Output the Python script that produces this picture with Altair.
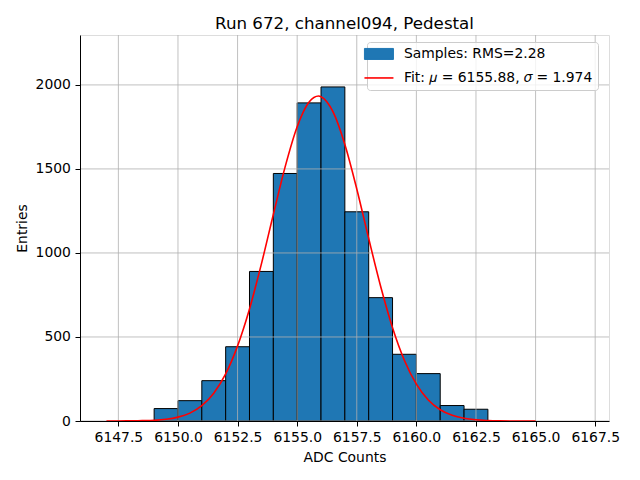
import altair as alt
import pandas as pd

# ---- data ----
bin_left = [6149, 6150, 6151, 6152, 6153, 6154, 6155, 6156, 6157, 6158, 6159, 6160, 6161, 6162]
bin_right = [6150, 6151, 6152, 6153, 6154, 6155, 6156, 6157, 6158, 6159, 6160, 6161, 6162, 6163]
counts = [74, 121, 240, 442, 890, 1473, 1893, 1988, 1245, 734, 397, 282, 92, 70]

fit_x = [6147.0, 6147.5, 6148.0, 6148.5, 6149.0, 6149.5, 6150.0, 6150.5, 6151.0, 6151.5,
         6152.0, 6152.5, 6153.0, 6153.5, 6154.0, 6154.5, 6155.0, 6155.5, 6155.9, 6156.0,
         6156.5, 6157.0, 6157.5, 6158.0, 6158.5, 6159.0, 6159.5, 6160.0, 6160.5, 6161.0,
         6161.5, 6162.0, 6162.5, 6163.0, 6163.5, 6164.0, 6164.5, 6165.0]
fit_y = [0, 0, 1, 2, 4, 10, 23, 47, 91, 165,
         280, 447, 667, 935, 1229, 1515, 1751, 1898, 1934, 1930,
         1841, 1646, 1381, 1086, 802, 555, 360, 219, 125, 67,
         34, 16, 7, 3, 1, 0, 0, 0]

x_ticks = [6147.5, 6150.0, 6152.5, 6155.0, 6157.5, 6160.0, 6162.5, 6165.0, 6167.5]
y_ticks = [0, 500, 1000, 1500, 2000]
x_domain = [6146.1, 6167.87]
y_domain = [0, 2297]

title_text = "Run 672, channel094, Pedestal"
x_title = "ADC Counts"
y_title = "Entries"
label_samples = "Samples: RMS=2.28"
label_fit = "Fit: \U0001D707 = 6155.88, \U0001D70E = 1.974"

series_domain = [label_samples, label_fit]
series_range = ["#1f77b4", "#ff0000"]

# ---- tables ----
bars_df = pd.DataFrame({"left": bin_left, "right": bin_right, "count": counts,
                        "series": [label_samples] * len(counts)})
fit_df = pd.DataFrame({"x": fit_x, "y": fit_y, "series": [label_fit] * len(fit_x)})
xgrid_df = pd.DataFrame({"v": x_ticks})
ygrid_df = pd.DataFrame({"v": y_ticks})

FONT = "DejaVu Sans"
FS = 13.9

xscale = alt.Scale(domain=x_domain, nice=False, zero=False)
yscale = alt.Scale(domain=y_domain, nice=False, zero=True)
cscale = alt.Scale(domain=series_domain, range=series_range)

common_axis = dict(domainColor="black", tickColor="black", labelColor="black",
                   titleColor="black", labelFont=FONT, titleFont=FONT,
                   labelFontSize=FS, titleFontSize=FS, titleFontWeight="normal",
                   tickSize=5, labelPadding=4.6, grid=False, domainWidth=1,
                   tickWidth=1, zindex=1, labelFlush=False, labelOverlap=False)
x_axis = alt.Axis(values=x_ticks, format=".1f", title=x_title, titlePadding=6, **common_axis)
y_axis = alt.Axis(values=y_ticks, format="d", title=y_title, titlePadding=6, **common_axis)

is_fit = f"datum.value === '{label_fit}'"
legend = alt.Legend(
    orient="none", legendX=287, legendY=7,
    symbolType=alt.ExprRef(expr=f"{is_fit} ? 'stroke' : 'M-1,-0.38H1V0.38H-1Z'"),
    symbolStrokeColor=alt.ExprRef(expr=f"{is_fit} ? '#ff0000' : '#000000'"),
    symbolStrokeWidth=alt.ExprRef(expr=f"{is_fit} ? 1.6 : 1"),
    symbolSize=841, symbolOffset=0,
    labelFont=FONT, labelFontSize=FS, labelColor="black", labelLimit=400,
    labelOffset=18, rowPadding=8, padding=5,
    fillColor="rgba(255,255,255,0.8)", strokeColor="#cccccc", cornerRadius=3,
)
color_enc = alt.Color("series:N", scale=cscale, legend=legend, title=None)

bars = alt.Chart(bars_df).mark_bar(stroke="black", strokeWidth=1, opacity=1,
                                   orient="vertical").encode(
    x=alt.X("left:Q", scale=xscale, axis=x_axis),
    x2="right:Q",
    y=alt.Y("count:Q", scale=yscale, axis=y_axis),
    y2=alt.datum(0),
    color=color_enc,
)

xgrid = alt.Chart(xgrid_df).mark_rule(color="#b0b0b0", strokeWidth=0.8).encode(
    x=alt.X("v:Q", scale=xscale, axis=x_axis),
)
ygrid = alt.Chart(ygrid_df).mark_rule(color="#b0b0b0", strokeWidth=0.8).encode(
    y=alt.Y("v:Q", scale=yscale, axis=y_axis),
)

line = alt.Chart(fit_df).mark_line(strokeWidth=1.6, interpolate="monotone").encode(
    x=alt.X("x:Q", scale=xscale, axis=x_axis),
    y=alt.Y("y:Q", scale=yscale, axis=y_axis),
    color=color_enc,
)

chart = alt.layer(bars, xgrid, ygrid, line).properties(
    width=529, height=386,
    title=alt.Title(title_text, font=FONT, fontSize=16.7, fontWeight="normal",
                    color="black", anchor="middle", offset=2),
    autosize=alt.AutoSizeParams(type="none"),
    padding={"left": 72, "top": 27, "right": 23, "bottom": 51},
).configure_view(stroke="black", strokeWidth=1).configure(background="white")

chart.save("out.html", embed_options={"renderer": "svg", "actions": False})
